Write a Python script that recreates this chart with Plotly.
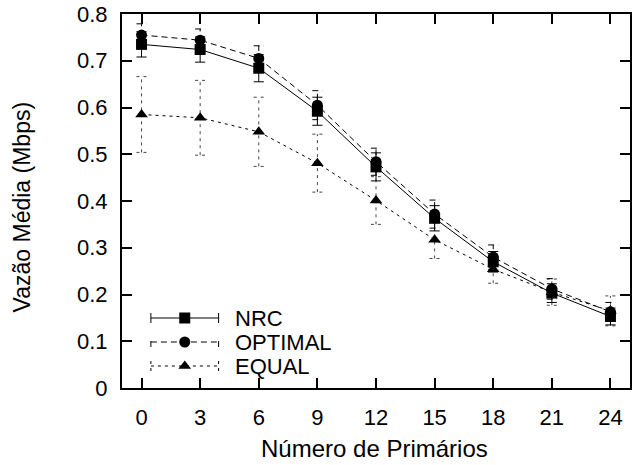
import plotly.graph_objects as go

# Average throughput versus number of primary users
primarios = [0, 3, 6, 9, 12, 15, 18, 21, 24]

nrc = [0.735, 0.724, 0.684, 0.592, 0.473, 0.363, 0.270, 0.203, 0.153]
nrc_err = [0.027, 0.027, 0.029, 0.030, 0.030, 0.027, 0.022, 0.020, 0.018]

optimal = [0.755, 0.744, 0.705, 0.605, 0.484, 0.372, 0.280, 0.212, 0.163]
optimal_err = [0.024, 0.024, 0.027, 0.031, 0.029, 0.030, 0.026, 0.022, 0.020]

equal = [0.585, 0.578, 0.548, 0.481, 0.401, 0.317, 0.254, 0.205, 0.165]
equal_err = [0.081, 0.080, 0.074, 0.062, 0.051, 0.040, 0.030, 0.028, 0.032]

series_names = ["NRC", "OPTIMAL", "EQUAL"]
x_ticks = [0, 3, 6, 9, 12, 15, 18, 21, 24]
y_ticks = [0, 0.1, 0.2, 0.3, 0.4, 0.5, 0.6, 0.7, 0.8]

FONT = "Liberation Sans, Arial, Helvetica, sans-serif"
CAP = 0.26  # half width of error-bar caps, in x units

styles = {
    "NRC": dict(dash="solid", symbol="square", size=11, err_color="black"),
    "OPTIMAL": dict(dash="6px,4px", symbol="circle", size=11, err_color="black"),
    "EQUAL": dict(dash="3px,4px", symbol="triangle-up", size=11, err_color="#444444"),
}


def error_paths(xs, ys, errs):
    """Vertical whiskers plus horizontal caps as one broken polyline."""
    px, py = [], []
    for x, y, e in zip(xs, ys, errs):
        lo, hi = y - e, y + e
        px += [x, x, None, x - CAP, x + CAP, None, x - CAP, x + CAP, None]
        py += [lo, hi, None, lo, lo, None, hi, hi, None]
    return px, py


fig = go.Figure()

data = {"NRC": (nrc, nrc_err), "OPTIMAL": (optimal, optimal_err), "EQUAL": (equal, equal_err)}

for name in ["EQUAL", "OPTIMAL", "NRC"]:
    ys, es = data[name]
    st = styles[name]
    ex, ey = error_paths(primarios, ys, es)
    fig.add_trace(go.Scatter(
        x=ex, y=ey, mode="lines", showlegend=False, hoverinfo="skip",
        line=dict(color=st["err_color"], width=1, dash=st["dash"]),
    ))
    fig.add_trace(go.Scatter(
        x=primarios, y=ys, mode="lines+markers", name=name, showlegend=False,
        line=dict(color="black", width=1, dash=st["dash"]),
        marker=dict(symbol=st["symbol"], size=st["size"], color="black",
                    line=dict(width=0)),
    ))

# Key drawn on an overlay axis measured in pixels of the plotting area
L, T, W, H = 122, 14, 510, 374
key_rows = [318, 342, 366]
key_x0, key_x1, key_xm, key_text = 151, 219, 185, 233

for name, yr in zip(series_names, key_rows):
    st = styles[name]
    kx = [(v - L) for v in (key_x0, key_x1)]
    ky = H - (yr - T)
    fig.add_trace(go.Scatter(
        x=[kx[0], kx[1], None, kx[0], kx[0], None, kx[1], kx[1]],
        y=[ky, ky, None, ky - 5, ky + 5, None, ky - 5, ky + 5],
        mode="lines", showlegend=False, hoverinfo="skip",
        xaxis="x2", yaxis="y2",
        line=dict(color="black", width=1, dash=st["dash"]),
    ))
    fig.add_trace(go.Scatter(
        x=[key_xm - L], y=[ky], mode="markers", showlegend=False, hoverinfo="skip",
        xaxis="x2", yaxis="y2",
        marker=dict(symbol=st["symbol"], size=st["size"], color="black"),
    ))
    fig.add_annotation(
        x=key_text - L, y=ky, xref="x2", yref="y2", text=name, showarrow=False,
        xanchor="left", yanchor="middle", font=dict(family=FONT, size=22, color="black"),
    )

axis_common = dict(
    showline=True, linecolor="black", linewidth=2, mirror="ticks",
    ticks="inside", ticklen=10, tickwidth=1.5, tickcolor="black",
    showgrid=False, zeroline=False,
    tickfont=dict(family=FONT, size=22, color="black"),
)

fig.update_layout(
    width=632, height=465,
    margin=dict(l=L, r=632 - L - W, t=T, b=465 - T - H),
    paper_bgcolor="white", plot_bgcolor="white",
    showlegend=False,
    xaxis=dict(range=[-1, 25], tickvals=x_ticks, ticklabelstandoff=9, **axis_common),
    yaxis=dict(range=[0, 0.8], tickvals=y_ticks, ticktext=["0"] + [f"{v:.1f}" for v in y_ticks[1:]],
               ticklabelstandoff=8, **axis_common),
    xaxis2=dict(range=[0, W], overlaying="x", visible=False, fixedrange=True),
    yaxis2=dict(range=[0, H], overlaying="y", visible=False, fixedrange=True),
)

fig.add_annotation(
    text="Número de Primários", xref="paper", yref="paper",
    x=(375 - L) / W, y=-(448 - (T + H)) / H, showarrow=False,
    xanchor="center", yanchor="middle", font=dict(family=FONT, size=24, color="black"),
)
fig.add_annotation(
    text="Vazão Média (Mbps)", xref="paper", yref="paper",
    x=-(L - 22) / W, y=(T + H - 207) / H, showarrow=False, textangle=-90,
    xanchor="center", yanchor="middle", font=dict(family=FONT, size=23, color="black"),
)

fig.write_html("out.html")
